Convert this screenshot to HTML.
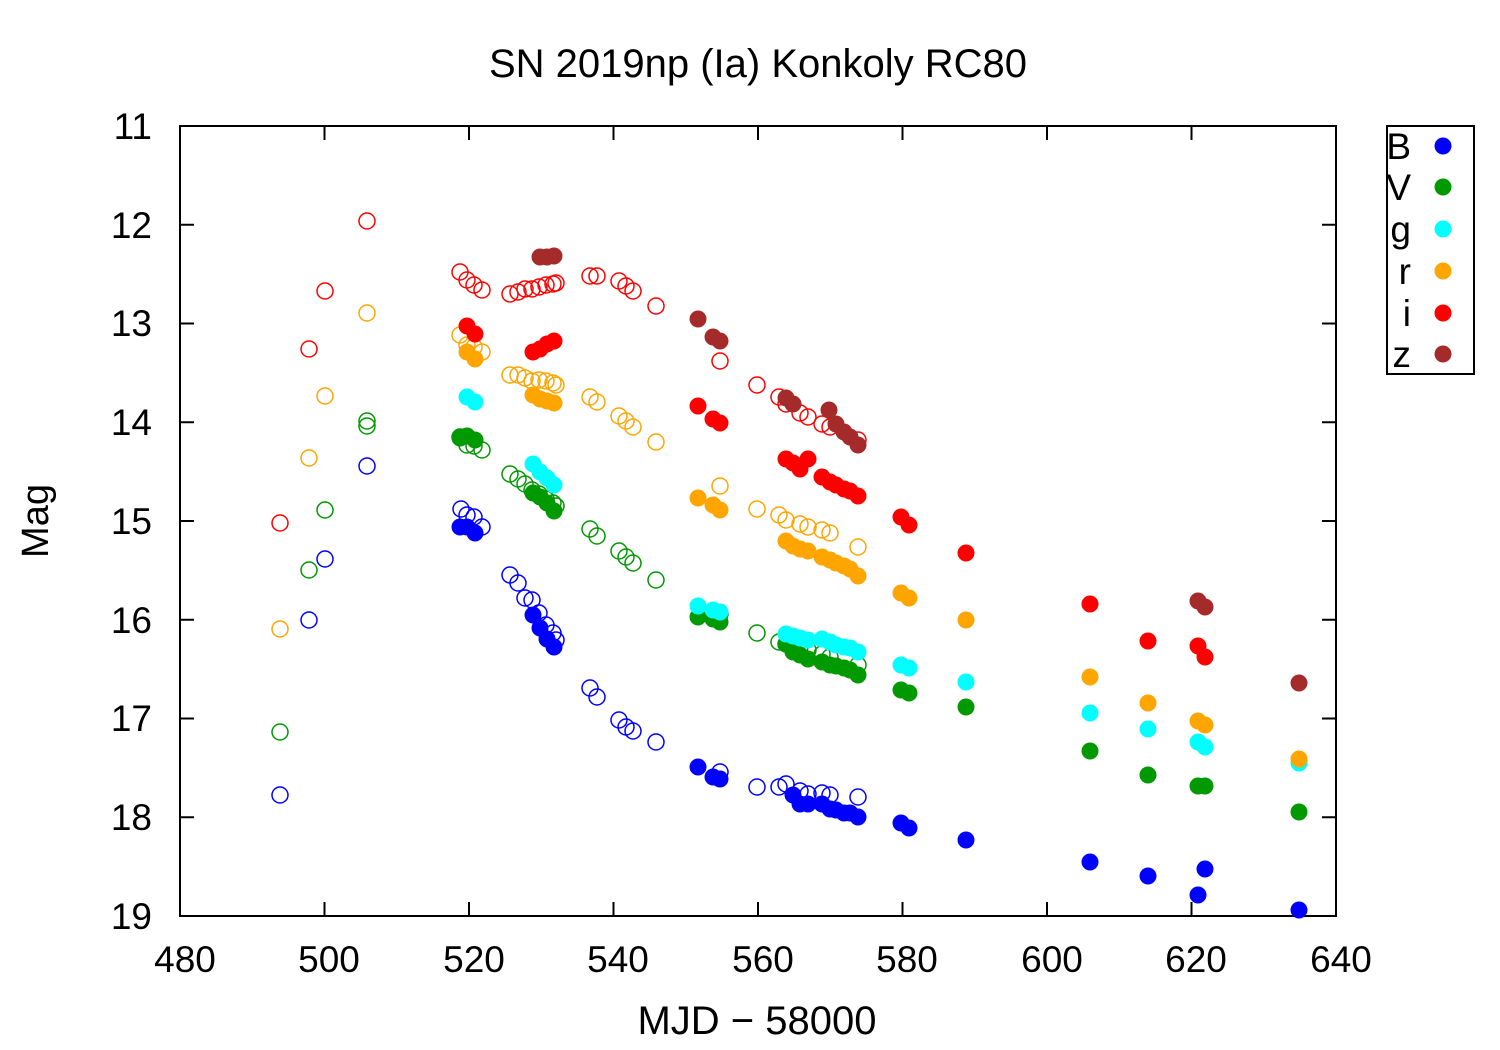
<!DOCTYPE html>
<html><head><meta charset="utf-8">
<style>
html,body{margin:0;padding:0;background:#fff;}
svg{display:block;font-family:"Liberation Sans",sans-serif;}
</style></head>
<body>
<svg id="s" width="1500" height="1050" xmlns="http://www.w3.org/2000/svg">
<rect width="1500" height="1050" fill="#fff"/>
<text x="758" y="77" font-size="40" text-anchor="middle">SN 2019np (Ia) Konkoly RC80</text>
<g font-size="37" text-anchor="end">
<text x="152" y="139">11</text><text x="152" y="238">12</text><text x="152" y="336">13</text>
<text x="152" y="435">14</text><text x="152" y="534">15</text><text x="152" y="633">16</text>
<text x="152" y="731">17</text><text x="152" y="830">18</text><text x="152" y="929">19</text>
</g>
<g font-size="37" text-anchor="middle">
<text x="185" y="972">480</text><text x="329" y="972">500</text><text x="474" y="972">520</text>
<text x="618" y="972">540</text><text x="763" y="972">560</text><text x="907" y="972">580</text>
<text x="1052" y="972">600</text><text x="1196" y="972">620</text><text x="1341" y="972">640</text>
</g>
<text x="757" y="1034" font-size="40" text-anchor="middle">MJD − 58000</text>
<text transform="translate(48,521) rotate(-90)" font-size="38" text-anchor="middle">Mag</text>
<g id="ax" stroke="#000" stroke-width="2" fill="none">
<rect x="180" y="126" width="1156" height="790"/>
</g>
<rect x="1387" y="126" width="87" height="248" fill="none" stroke="#000" stroke-width="2"/>
<g font-size="37" text-anchor="end">
<text x="1411" y="159">B</text><text x="1411" y="200">V</text><text x="1411" y="242">g</text>
<text x="1411" y="284">r</text><text x="1411" y="326">i</text><text x="1411" y="367">z</text>
</g>
<g id="pts"></g>
</svg>
<script>
const NS="http://www.w3.org/2000/svg";
const ax=document.getElementById('ax');
function ln(x1,y1,x2,y2){const l=document.createElementNS(NS,'line');l.setAttribute('x1',x1);l.setAttribute('y1',y1);l.setAttribute('x2',x2);l.setAttribute('y2',y2);ax.appendChild(l);}
for(let i=0;i<=8;i++){const y=126+i*98.75;ln(180,y,194,y);ln(1336,y,1322,y);}
for(let i=0;i<=8;i++){const x=180+i*144.5;ln(x,916,x,902);ln(x,126,x,140);}
const P=document.getElementById('pts');
function c(x,y,col,open){const e=document.createElementNS(NS,'circle');e.setAttribute('cx',x);e.setAttribute('cy',y);e.setAttribute('r',open?8:8.5);
if(open){e.setAttribute('fill','none');e.setAttribute('stroke',col);e.setAttribute('stroke-width','1.5');}else e.setAttribute('fill',col);P.appendChild(e);}
function s(arr,col,open){for(let i=0;i<arr.length;i+=2)c(arr[i],arr[i+1],col,open);}
const B='#0000ff',V='#009900',G='#00ffff',R='#ffa500',I='#ff0000',Z='#a52a2a';
s([280,795,309,620,325,559,367,466,461,509,467,515,474,517,482,527,510,575,518,583,525,598,532,600,539,613,546,625,553,633,556,640,590,688,597,697,619,720,626,727,633,731,656,742,720,772,757,787,779,787,786,784,800,791,808,794,822,793,830,795,858,797],B,true);
s([280,732,309,570,325,510,367,421,367,426,460,437,467,445,474,446,482,450,510,474,518,479,525,484,532,490,539,494,546,499,553,503,556,506,590,529,597,536,619,551,626,557,633,563,656,580,720,614,757,633,779,642,786,644,800,647,808,650,822,654,830,657,858,665],V,true);
s([280,629,309,458,325,396,367,313,460,335,467,345,474,347,482,352,510,375,518,375,525,378,532,381,539,380,546,381,553,383,556,385,590,397,597,402,619,416,626,421,633,427,656,442,720,486,757,509,779,515,786,520,800,524,808,527,822,530,830,533,858,547],R,true);
s([280,523,309,349,325,291,367,221,460,272,467,280,474,285,482,290,510,294,518,292,525,289,532,289,539,287,546,285,553,284,556,283,590,276,597,276,619,281,626,286,633,291,656,306,720,361,757,385,779,397,786,404,800,413,808,417,822,424,830,427,858,440],I,true);
s([460,527,467,527,475,533,533,615,540,628,547,639,554,647,698,767,713,777,720,779,793,795,800,804,808,804,822,804,830,809,836,810,844,813,850,813,858,817,901,823,909,828,966,840,1090,862,1148,876,1198,895,1205,869,1299,910],B,false);
s([460,438,467,436,475,440,533,493,540,497,547,503,554,511,698,617,713,619,720,622,786,644,793,652,800,655,808,659,822,662,830,665,836,666,844,668,850,670,858,675,901,690,909,693,966,707,1090,751,1148,775,1198,786,1205,786,1299,812],V,false);
s([467,397,475,402,533,464,540,472,547,478,554,485,698,606,713,610,720,612,786,634,793,636,800,638,808,640,822,639,830,642,836,645,844,647,850,648,858,652,901,665,909,668,966,682,1090,713,1148,729,1198,742,1205,747,1299,763],G,false);
s([467,352,475,359,533,395,540,399,547,401,554,403,698,498,713,505,720,510,786,541,793,546,800,549,808,551,822,557,830,560,836,563,844,566,850,569,858,576,901,593,909,598,966,620,1090,677,1148,703,1198,721,1205,725,1299,759],R,false);
s([467,326,475,334,533,352,540,349,547,344,554,341,698,406,713,419,720,423,786,459,793,463,800,469,808,459,822,477,830,482,836,485,844,489,850,491,858,496,901,517,909,525,966,553,1090,604,1148,641,1198,646,1205,657],I,false);
s([540,257,547,257,554,256,698,319,713,337,720,341,786,398,793,404,829,410,836,424,844,432,850,437,858,445,1198,601,1205,607,1299,683],Z,false);
s([1443,146],B,false);s([1443,187],V,false);s([1443,229],G,false);s([1443,271],R,false);s([1443,313],I,false);s([1443,354],Z,false);
</script>
</body></html>
